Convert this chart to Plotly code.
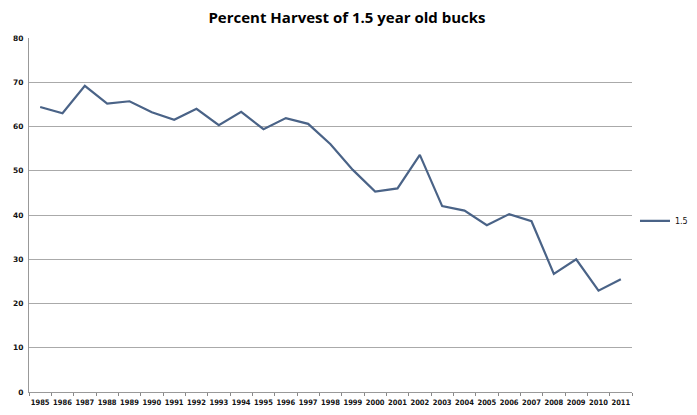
import plotly.graph_objects as go

years = [str(y) for y in range(1985, 2012)]
pct_15 = [64.4, 63.0, 69.2, 65.2, 65.7, 63.2, 61.5, 64.0, 60.3, 63.3, 59.4, 61.9, 60.6,
          56.0, 50.2, 45.3, 46.0, 53.6, 42.0, 41.0, 37.7, 40.2, 38.6, 26.7, 30.0, 22.9, 25.5]
y_ticks = [0, 10, 20, 30, 40, 50, 60, 70, 80]

fig = go.Figure()
fig.add_trace(go.Scatter(x=years, y=pct_15, name='1.5', mode='lines',
                         line=dict(color='#4a6387', width=2.2)))

# page body has an 8px margin, so the figure is sized/offset to compensate
fig.update_layout(
    title=dict(text='<b>Percent Harvest of 1.5 year old bucks</b>', x=0.492, xanchor='center',
               y=0.975, yanchor='middle', font=dict(family='Open Sans', size=15, color='black')),
    width=689, height=407,
    margin=dict(l=21, r=65, t=30, b=23),
    paper_bgcolor='white', plot_bgcolor='white',
    font=dict(family='DejaVu Sans', size=8, color='#222'),
    showlegend=True,
    legend=dict(xref='container', yref='container', x=0.91, y=0.477,
                xanchor='left', yanchor='middle', font=dict(size=8, color='#111'),
                bgcolor='rgba(0,0,0,0)', itemwidth=30),
    xaxis=dict(type='category', range=[-0.5, len(years) - 0.5], tickson='boundaries',
               ticks='outside', ticklen=3, ticklabelstandoff=3,
               tickcolor='#888', showline=True, linecolor='#999', showgrid=False,
               automargin=False,
               tickfont=dict(family='DejaVu Sans Condensed', size=7.5, weight='bold',
                             color='#111'), tickangle=0),
    yaxis=dict(range=[0, 80], tickvals=y_ticks, showgrid=True, gridcolor='#aaaaaa',
               gridwidth=1, showline=True, linecolor='#999', zeroline=False,
               automargin=False, ticklabelstandoff=3,
               ticks='', tickfont=dict(size=7.5, weight='bold', color='#111')),
)

fig.write_html("out.html")
